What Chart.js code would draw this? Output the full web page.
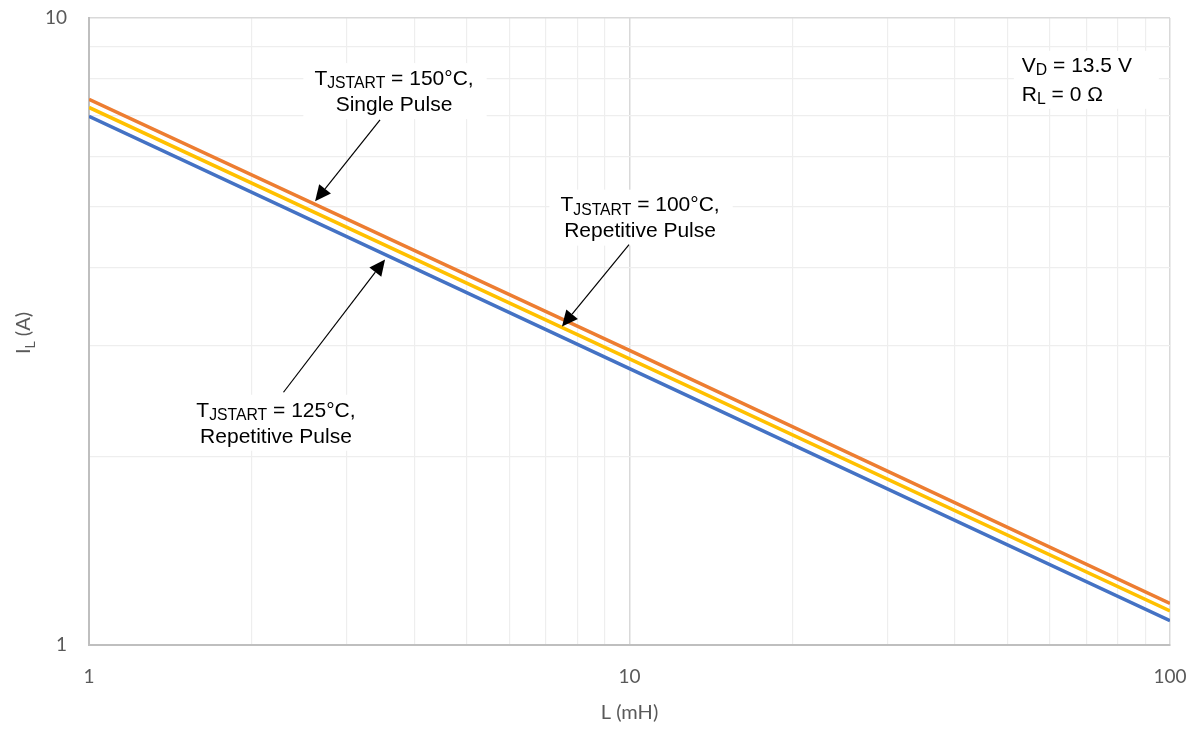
<!DOCTYPE html>
<html>
<head>
<meta charset="utf-8">
<script src="https://cdn.jsdelivr.net/npm/chart.js@4"></script>
<style>
  html, body { margin: 0; padding: 0; background: #fff; }
  #wrap { width: 1199px; height: 730px; }
</style>
</head>
<body>
<div id="wrap"><canvas id="grafico"></canvas></div>
<script>
// dados (L em mH, I_L em A)
const indutancia = [1, 10, 100];
const serie150 = [7.42, 2.95, 1.165];
const serie100 = [7.2, 2.86, 1.133];
const serie125 = [6.97, 2.76, 1.093];
const ticksX = [1, 10, 100];
const ticksY = [1, 10];

// anotações (posições em unidades dos dados)
const notas = [
  { x: 3.667, y: 7.99, temp: '150°C,', linha2: 'Single Pulse', de: [3.455, 6.88], para: [2.62, 5.1] },
  { x: 10.46, y: 5.02, temp: '100°C,', linha2: 'Repetitive Pulse', de: [9.98, 4.35], para: [7.5, 3.22] },
  { x: 2.218, y: 2.364, temp: '125°C,', linha2: 'Repetitive Pulse', de: [2.29, 2.53], para: [3.53, 4.12] }
];

const fonteNota = '"Liberation Sans", Arial, sans-serif';
const fonteEixo = 'Lato, "Open Sans", sans-serif';

function pontos(ys) {
  return indutancia.map((x, i) => ({ x: x, y: ys[i] }));
}

function ehMaior(v) {
  const l = Math.log10(v);
  return Math.abs(l - Math.round(l)) < 1e-9;
}

// grade 1..9 por década, entre os rótulos principais
function gradeLog(principais) {
  const t = [];
  for (let i = 0; i < principais.length - 1; i++) {
    for (let k = 1; k < 10; k++) t.push({ value: principais[i] * k });
  }
  t.push({ value: principais[principais.length - 1] });
  return t;
}

// desenha texto com partes em subscrito
function textoRico(ctx, partes, cx, y, tam, alinhar) {
  let larg = 0;
  partes.forEach(p => {
    ctx.font = (p.sub ? tam * 0.75 : tam) + 'px ' + fonteNota;
    p.w = ctx.measureText(p.t).width;
    larg += p.w;
  });
  let x = alinhar === 'left' ? cx : cx - larg / 2;
  partes.forEach(p => {
    ctx.font = (p.sub ? tam * 0.75 : tam) + 'px ' + fonteNota;
    ctx.fillText(p.t, x, p.sub ? y + 5 : y);
    x += p.w;
  });
  return larg;
}

function seta(ctx, x1, y1, x2, y2) {
  const ang = Math.atan2(y2 - y1, x2 - x1);
  const comp = 16, meia = 7.5;
  const bx = x2 - comp * Math.cos(ang), by = y2 - comp * Math.sin(ang);
  ctx.strokeStyle = '#000';
  ctx.lineWidth = 1.2;
  ctx.beginPath();
  ctx.moveTo(x1, y1);
  ctx.lineTo(bx, by);
  ctx.stroke();
  ctx.fillStyle = '#000';
  ctx.beginPath();
  ctx.moveTo(x2, y2);
  ctx.lineTo(bx + meia * Math.sin(ang), by - meia * Math.cos(ang));
  ctx.lineTo(bx - meia * Math.sin(ang), by + meia * Math.cos(ang));
  ctx.closePath();
  ctx.fill();
}

const anotacoes = {
  id: 'anotacoes',
  afterDraw(chart) {
    const ctx = chart.ctx;
    const sx = chart.scales.x, sy = chart.scales.y;
    const tam = 21;
    ctx.save();
    ctx.textBaseline = 'middle';

    notas.forEach(n => {
      const cx = sx.getPixelForValue(n.x);
      const cy = sy.getPixelForValue(n.y);
      const p1 = [{ t: 'T' }, { t: 'JSTART', sub: true }, { t: ' = ' + n.temp }];
      let larg = 0;
      p1.forEach(p => {
        ctx.font = (p.sub ? tam * 0.75 : tam) + 'px ' + fonteNota;
        larg += ctx.measureText(p.t).width;
      });
      ctx.fillStyle = '#fff';
      ctx.fillRect(cx - larg / 2 - 11, cy - 16, larg + 24, 56);
      ctx.fillStyle = '#000';
      textoRico(ctx, p1, cx, cy, tam);
      ctx.font = tam + 'px ' + fonteNota;
      ctx.textAlign = 'center';
      ctx.fillText(n.linha2, cx, cy + 26);
      ctx.textAlign = 'left';
      seta(ctx,
        sx.getPixelForValue(n.de[0]), sy.getPixelForValue(n.de[1]),
        sx.getPixelForValue(n.para[0]), sy.getPixelForValue(n.para[1]));
    });

    // V_D / R_L
    const vx = sx.getPixelForValue(53.2);
    const vy = sy.getPixelForValue(8.39);
    ctx.fillStyle = '#fff';
    ctx.fillRect(vx - 8, vy - 15, 145, 58);
    ctx.fillStyle = '#000';
    textoRico(ctx, [{ t: 'V' }, { t: 'D', sub: true }, { t: ' = 13.5 V' }], vx, vy, tam, 'left');
    textoRico(ctx, [{ t: 'R' }, { t: 'L', sub: true }, { t: ' = 0 Ω' }], vx, vy + 29, tam, 'left');

    // títulos dos eixos
    ctx.fillStyle = '#595959';
    ctx.font = '20px ' + fonteEixo;
    ctx.textAlign = 'center';
    ctx.fillText('L (mH)', (chart.chartArea.left + chart.chartArea.right) / 2, 713);

    ctx.translate(24, 333);
    ctx.rotate(-Math.PI / 2);
    ctx.font = '20px ' + fonteEixo;
    const wI = ctx.measureText('I').width;
    ctx.font = '14px ' + fonteEixo;
    const wL = ctx.measureText('L').width;
    ctx.font = '20px ' + fonteEixo;
    const wA = ctx.measureText(' (A)').width;
    let x = -(wI + wL + wA) / 2;
    ctx.textAlign = 'left';
    ctx.fillText('I', x, 0);
    x += wI;
    ctx.font = '14px ' + fonteEixo;
    ctx.fillText('L', x, 6);
    x += wL;
    ctx.font = '20px ' + fonteEixo;
    ctx.fillText(' (A)', x, 0);
    ctx.restore();
  }
};

const ctx = document.getElementById('grafico').getContext('2d');
const grafico = new Chart(ctx, {
  type: 'line',
  data: {
    datasets: [
      { label: '150', data: pontos(serie150), borderColor: '#ED7D31', borderWidth: 3.5, pointRadius: 0, fill: false },
      { label: '100', data: pontos(serie100), borderColor: '#FFC000', borderWidth: 3.5, pointRadius: 0, fill: false },
      { label: '125', data: pontos(serie125), borderColor: '#4472C4', borderWidth: 3.5, pointRadius: 0, fill: false }
    ]
  },
  options: {
    responsive: true,
    maintainAspectRatio: false,
    animation: false,
    layout: { padding: { top: 18, right: 29, bottom: 0, left: 0 } },
    plugins: {
      legend: { display: false },
      tooltip: { enabled: false }
    },
    scales: {
      x: {
        type: 'logarithmic',
        min: 1,
        max: 100,
        afterBuildTicks: s => { s.ticks = gradeLog(ticksX); },
        afterFit: s => { s.height = 85; s.paddingLeft = 0; s.paddingRight = 0; },
        grid: {
          drawTicks: false,
          color: c => ehMaior(c.tick.value) ? '#d9d9d9' : '#eeeeee',
          lineWidth: c => ehMaior(c.tick.value) ? 1.5 : 1.2
        },
        border: { color: '#bfbfbf', width: 2 },
        ticks: {
          autoSkip: false,
          maxRotation: 0,
          padding: 20,
          color: '#595959',
          font: { family: fonteEixo, size: 19 },
          callback: v => ticksX.some(t => Math.abs(t - v) < 1e-9) ? String(v) : ''
        }
      },
      y: {
        type: 'logarithmic',
        min: 1,
        max: 10,
        afterBuildTicks: s => { s.ticks = gradeLog(ticksY); },
        afterFit: s => { s.width = 89; s.paddingTop = 0; s.paddingBottom = 0; },
        grid: {
          drawTicks: false,
          color: c => ehMaior(c.tick.value) ? '#d9d9d9' : '#eeeeee',
          lineWidth: c => ehMaior(c.tick.value) ? 1.5 : 1.2
        },
        border: { color: '#bfbfbf', width: 2 },
        ticks: {
          autoSkip: false,
          padding: 22,
          color: '#595959',
          font: { family: fonteEixo, size: 19 },
          callback: v => ticksY.some(t => Math.abs(t - v) < 1e-9) ? String(v) : ''
        }
      }
    }
  },
  plugins: [anotacoes]
});
</script>
</body>
</html>
